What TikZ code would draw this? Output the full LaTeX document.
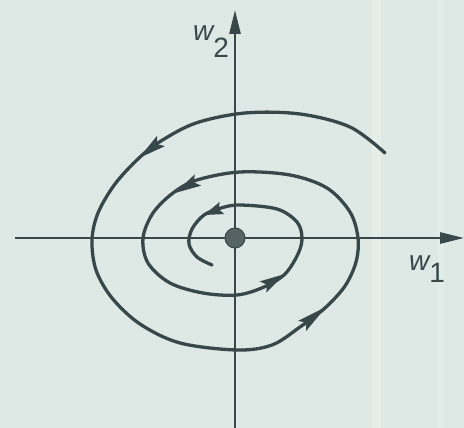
\documentclass[tikz,border=0pt]{standalone}
\usepackage{fontspec}
\setmainfont{Liberation Sans}
\usetikzlibrary{arrows.meta,calc}
\definecolor{bg}{HTML}{DEE9E5}
\definecolor{stripe}{HTML}{E6EEEA}
\definecolor{ink}{HTML}{37474A}
\newcommand\sparrow[2]{\fill[ink] (#1) -- ($(#2)!6.5pt!90:(#1)$) -- ($(#1)!0.82!(#2)$) -- ($(#2)!6.5pt!-90:(#1)$) -- cycle;}
\begin{document}
\begin{tikzpicture}[x=1pt,y=-1pt,
  curve/.style={draw=ink, line width=3.3pt, line cap=round, line join=round},
  axisline/.style={draw=ink, line width=2.6pt, -{Triangle[length=24pt,width=11pt]}},
  lbl/.style={text=ink, font=\fontsize{28}{28}\selectfont, inner sep=0pt, anchor=base west}]
% background
\fill[bg] (0,0) rectangle (464,428);
\fill[stripe] (372,0) rectangle (381,428);
\fill[stripe, opacity=0.6] (438,0) rectangle (444,428);
\useasboundingbox (0,0) rectangle (464,428);
% axes
\coordinate (xl) at (15,238);
\coordinate (xr) at (464,238);
\coordinate (yb) at (235,428);
\coordinate (yt) at (235,10);
\draw[axisline] (xl) -- (xr);
\draw[axisline] (yb) -- (yt);
% spiral
\draw[curve] plot[smooth, tension=0.55] coordinates {
  (385,153) (350,127) (300,114) (245,113) (196,123) (161,141)
  (139,158) (115,184) (98,213) (92,240) (96,270) (112,298) (140,324) (180,343)
  (237,350) (272,345) (300,327) (325,308) (345,286) (356,262) (358,238) (350,212) (327,188)
  (290,175) (240,172) (197,180) (173,193) (153,213) (143,238) (148,263) (170,283)
  (203,293) (237,295) (264,287) (285,274) (298,254) (302,238) (297,222) (277,209)
  (240,205) (221,208) (204,215) (192,229) (189,244) (197,257) (212,265)};
% direction arrows
\sparrow{139,158}{161,141}
\sparrow{326,307}{302,326}
\sparrow{175,193}{198,180}
\sparrow{285,274}{263,287}
\sparrow{204,215}{222,208}
% equilibrium point
\node[circle, fill=ink!85!white, draw=ink, line width=1pt, minimum size=20pt, inner sep=0pt] (o) at (235,238) {};
% labels
\node[lbl] (w2) at (193,41) {\itshape w\raisebox{-17pt}{\upshape 2}};
\node[lbl] (w1) at (409,270) {\itshape w\raisebox{-12pt}{\upshape 1}};
\end{tikzpicture}
\end{document}
